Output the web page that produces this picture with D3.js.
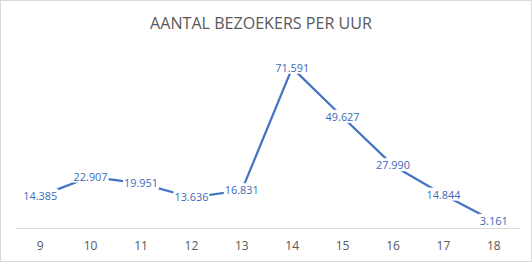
<!DOCTYPE html>
<html><head><meta charset="utf-8">
<script src="https://cdn.jsdelivr.net/npm/d3@7"></script>
<style>body{margin:0;background:#fff}svg{display:block}</style>
</head><body>
<svg id="c" width="532" height="262"></svg>
<script>
const title = "AANTAL BEZOEKERS PER UUR";
const hours = ["9","10","11","12","13","14","15","16","17","18"];
const visitors = [14.385, 22.907, 19.951, 13.636, 16.831, 71.591, 49.627, 27.990, 14.844, 3.161];
const valueLabels = ["14.385","22.907","19.951","13.636","16.831","71.591","49.627","27.990","14.844","3.161"];
const yDomain = [0, 80];

const svg = d3.select("#c");
const W = 532, H = 262;
const font = "'Open Sans', 'Noto Sans', sans-serif";
svg.append("rect").attr("x",0.5).attr("y",0.5).attr("width",W-1).attr("height",H-1)
  .attr("fill","#fff").attr("stroke","#d9d9d9");

function fit(sel, w){
  const n = sel.node(); const l = n.getComputedTextLength();
  const fs = parseFloat(sel.attr("font-size"));
  sel.attr("font-size", fs*w/l);
}

const t = svg.append("text").text(title).attr("x",261).attr("y",29)
  .attr("text-anchor","middle").attr("font-family",font).attr("font-size",16).attr("fill","#595959");
fit(t, 222);

const x = d3.scaleBand().domain(hours).range([15, 519]);
const y = d3.scaleLinear().domain(yDomain).range([228, 228 - 80*2.236]);

const ax = svg.append("g").attr("transform","translate(0,228)")
  .call(d3.axisBottom(x).tickSize(0).tickPadding(13));
ax.select(".domain").attr("stroke","#d9d9d9").attr("stroke-width",1);
ax.selectAll("text").attr("font-family",font).attr("font-size",12).attr("fill","#595959");

const line = d3.line().x((d,i)=>x(hours[i])+x.bandwidth()/2).y(d=>y(d));
svg.append("path").datum(visitors).attr("d",line).attr("fill","none")
  .attr("stroke","#4472c4").attr("stroke-width",2.25).attr("stroke-linejoin","round");

const lg = svg.append("g");
visitors.forEach((v,i)=>{
  const cx = x(hours[i])+x.bandwidth()/2, cy = y(v);
  const g = lg.append("g");
  const tx = g.append("text").text(valueLabels[i]).attr("x",cx).attr("y",cy)
    .attr("dy","0.35em").attr("text-anchor","middle").attr("font-family",font)
    .attr("font-size",11).attr("fill","#3d6ab8");
  fit(tx, 34*valueLabels[i].length/6);
  const bb = tx.node().getBBox();
  g.insert("rect","text").attr("x",bb.x-1).attr("y",bb.y+1).attr("width",bb.width+2).attr("height",bb.height-2).attr("fill","#fff");
});
</script>
</body></html>
